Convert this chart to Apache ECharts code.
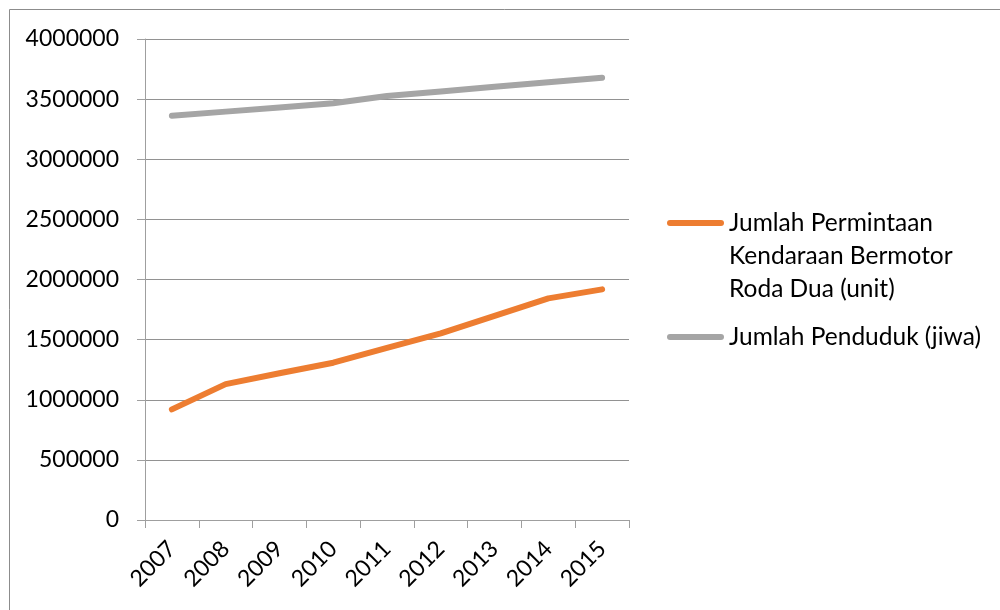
<!DOCTYPE html>
<html>
<head>
<meta charset="utf-8">
<script src="https://cdn.jsdelivr.net/npm/echarts@6/dist/echarts.min.js"></script>
<style>
  html, body { margin: 0; padding: 0; background: #fff; }
  #chart { width: 1000px; height: 610px; }
</style>
</head>
<body>
<div id="chart"></div>
<script>
// Years on the category axis
const years = ['2007', '2008', '2009', '2010', '2011', '2012', '2013', '2014', '2015'];

// Two-wheeled motor vehicle demand (units)
const permintaan = [920000, 1130000, 1220000, 1308000, 1431000, 1552000, 1698000, 1843000, 1918000];

// Population (people)
const penduduk = [3362000, 3396000, 3430000, 3465000, 3526000, 3564000, 3602000, 3640000, 3678000];

// Value axis ticks
const yTicks = [0, 500000, 1000000, 1500000, 2000000, 2500000, 3000000, 3500000, 4000000];

const seriesNames = [
  'Jumlah Permintaan\nKendaraan Bermotor\nRoda Dua (unit)',
  'Jumlah Penduduk (jiwa)'
];

const FONT = 'Lato';
const AXIS_GRAY = '#9f9f9f';
const GRID_GRAY = '#929292';
const ORANGE = '#ED7D31';
const GRAY = '#A5A5A5';
const CAPSULE = 'path://M3,0 L54,0 A3,3 0 0 1 54,6 L3,6 A3,3 0 0 1 3,0 Z';
const LEGEND_LINE = 33;
const LEGEND_FONT = 24.5;

const chart = echarts.init(document.getElementById('chart'), null, { renderer: 'canvas' });

chart.setOption({
  animation: false,
  backgroundColor: '#ffffff',
  textStyle: { fontFamily: FONT },
  grid: { left: 145, right: 371, top: 39, bottom: 90, containLabel: false },
  graphic: [{
    type: 'polyline',
    shape: { points: [[9.5, 610], [9.5, 9.5], [1000, 9.5]] },
    style: { stroke: '#8c8c8c', lineWidth: 1, fill: null },
    silent: true
  }],
  legend: [
    {
      data: [seriesNames[0]],
      // two blank lines before the name keep the icon level with its first line
      formatter: (name) => '\n\n' + name,
      left: 667,
      top: 223 - 5 * LEGEND_LINE / 2,
      padding: 0,
      itemWidth: 57,
      itemHeight: 6,
      icon: CAPSULE,
      selectedMode: false,
      textStyle: { fontFamily: FONT, fontSize: LEGEND_FONT, color: '#000', lineHeight: LEGEND_LINE }
    },
    {
      data: [seriesNames[1]],
      left: 667,
      top: 337 - LEGEND_LINE / 2,
      padding: 0,
      itemWidth: 57,
      itemHeight: 6,
      icon: CAPSULE,
      selectedMode: false,
      textStyle: { fontFamily: FONT, fontSize: LEGEND_FONT, color: '#000', lineHeight: LEGEND_LINE }
    }
  ],
  xAxis: {
    type: 'category',
    data: years,
    boundaryGap: true,
    axisLine: { show: true, lineStyle: { color: AXIS_GRAY, width: 1 } },
    axisTick: { show: true, length: 8, lineStyle: { color: AXIS_GRAY } },
    axisLabel: {
      rotate: 45, margin: 25, color: '#000',
      fontFamily: FONT, fontSize: 23, interval: 0
    },
    splitLine: { show: false }
  },
  yAxis: {
    type: 'value',
    min: yTicks[0],
    max: yTicks[yTicks.length - 1],
    interval: yTicks[1] - yTicks[0],
    axisLine: { show: true, lineStyle: { color: AXIS_GRAY, width: 1 } },
    axisTick: { show: true, length: 8, lineStyle: { color: AXIS_GRAY } },
    axisLabel: {
      margin: 26, color: '#000', fontFamily: FONT, fontSize: 23,
      formatter: (v) => String(v)
    },
    splitLine: { show: true, lineStyle: { color: GRID_GRAY, width: 1 } }
  },
  series: [
    {
      name: seriesNames[0],
      type: 'line',
      data: permintaan,
      symbol: 'none',
      color: ORANGE,
      lineStyle: { color: ORANGE, width: 6, cap: 'round', join: 'round' }
    },
    {
      name: seriesNames[1],
      type: 'line',
      data: penduduk,
      symbol: 'none',
      color: GRAY,
      lineStyle: { color: GRAY, width: 6, cap: 'round', join: 'round' }
    }
  ]
});
</script>
</body>
</html>
